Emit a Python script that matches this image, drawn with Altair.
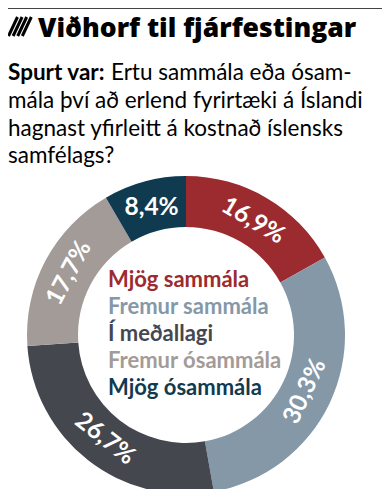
import altair as alt
import pandas as pd

# ---- data ----
categories = ["Mjög sammála", "Fremur sammála", "Í meðallagi", "Fremur ósammála", "Mjög ósammála"]
values = [16.9, 30.3, 26.7, 17.7, 8.4]
colors = ["#9b2b2f", "#8498a8", "#45474f", "#a39b98", "#0f3a4f"]

title_text = "Viðhorf til fjárfestingar"
question_lead = "Spurt var:"
question_lines = [
    "Ertu sammála eða ósam-",
    "mála því að erlend fyrirtæki á Íslandi",
    "hagnast yfirleitt á kostnað íslensks",
    "samfélags?",
]

# ---- derived table ----
labels = [f"{v:.1f}".replace(".", ",") + "%" for v in values]
angles = []
cum = 0.0
for v in values:
    mid = (cum + v / 2) / sum(values) * 360
    cum += v
    if mid > 330:
        a = 0
    elif 90 < mid < 270:
        a = (mid - 180) % 360
    else:
        a = mid
    angles.append(a)

df = pd.DataFrame({
    "idx": list(range(len(categories))),
    "category": categories,
    "value": values,
    "label": labels,
    "angle": angles,
})

FONT = "Lato"
CX, CY = 178, 327
color_scale = alt.Scale(domain=categories, range=colors)

base = alt.Chart(df)

arcs = base.mark_arc(innerRadius=108, outerRadius=159).encode(
    theta=alt.Theta("value:Q", stack=True),
    order=alt.Order("idx:Q"),
    color=alt.Color("category:N", scale=color_scale, legend=None),
    x=alt.value(CX),
    y=alt.value(CY),
)

pct = base.mark_text(radius=132, fontSize=24.5, fontWeight="bold", font=FONT,
                     color="white", align="center", baseline="middle").encode(
    theta=alt.Theta("value:Q", stack=True),
    order=alt.Order("idx:Q"),
    text="label:N",
    angle=alt.Angle("angle:Q", scale=None),
    x=alt.value(CX),
    y=alt.value(CY),
)

legend_txt = base.mark_text(fontSize=22, fontWeight="bold", font=FONT,
                            align="left", baseline="alphabetic").encode(
    text="category:N",
    color=alt.Color("category:N", scale=color_scale, legend=None),
    x=alt.value(100),
    y=alt.Y("idx:Q", scale=alt.Scale(domain=[0, 4], range=[279, 387]), axis=None),
)

one = pd.DataFrame({"t": [title_text]})

top_rule = alt.Chart(one).mark_rule(color="#444444", strokeWidth=1).encode(
    x=alt.value(0), x2=alt.value(374), y=alt.value(0.5)
)

stripes = []
for i in range(4):
    stripes.append(
        alt.Chart(one).mark_rule(color="black", strokeWidth=3).encode(
            x=alt.value(0.5 + 4.6 * i), x2=alt.value(9.5 + 4.6 * i),
            y=alt.value(28), y2=alt.value(9),
        )
    )

title = alt.Chart(one).mark_text(fontSize=26.5, fontWeight=800, font="Open Sans", color="black",
                                 align="left", baseline="alphabetic").encode(
    text="t:N", x=alt.value(30), y=alt.value(29)
)

lead = alt.Chart(pd.DataFrame({"t": [question_lead]})).mark_text(
    fontSize=22.5, fontWeight="bold", font=FONT, color="black",
    align="left", baseline="alphabetic").encode(
    text="t:N", x=alt.value(0), y=alt.value(72)
)

q_layers = []
q_y = [72, 100, 128, 155]
q_x = [103, 0, 0, 0]
for line, yy, xx in zip(question_lines, q_y, q_x):
    q_layers.append(
        alt.Chart(pd.DataFrame({"t": [line]})).mark_text(
            fontSize=22.5, font=FONT, color="black",
            align="left", baseline="alphabetic").encode(
            text="t:N", x=alt.value(xx), y=alt.value(yy)
        )
    )

chart = alt.layer(
    arcs, pct, legend_txt, top_rule, *stripes, title, lead, *q_layers
).properties(
    width=374, height=481, padding=0,
    autosize=alt.AutoSizeParams(type="none"),
).configure_view(stroke=None)

chart.save("out.html", embed_options={"renderer": "svg", "actions": False})
